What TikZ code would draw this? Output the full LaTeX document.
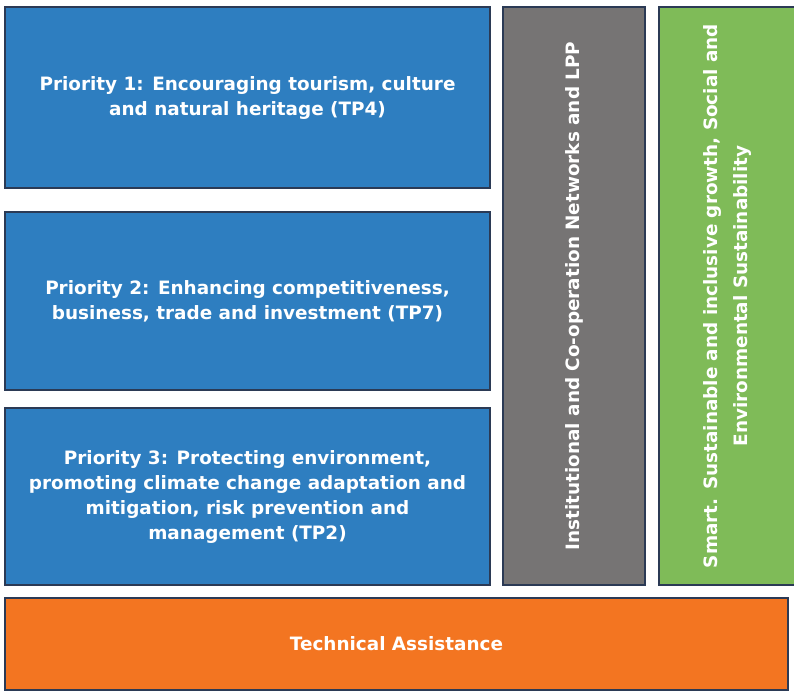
\documentclass[tikz,border=0pt]{standalone}
\usepackage{fontspec}
\setmainfont{DejaVu Sans}
\begin{document}
\begin{tikzpicture}[x=1pt,y=-1pt,
  box/.style={draw=edgecol, line width=1.6pt, text=white, font=\fontsize{18.4}{25}\selectfont\bfseries, align=center, inner sep=0pt},
  vtext/.style={text=white, font=\fontsize{18.4}{30}\selectfont\bfseries, rotate=90, align=center},
]
\definecolor{edgecol}{HTML}{2B3A55}
\definecolor{prioblue}{HTML}{2E7EC0}
\definecolor{netgray}{HTML}{767474}
\definecolor{sgreen}{HTML}{7FBB58}
\definecolor{taorange}{HTML}{F37521}
\useasboundingbox (0,0) rectangle (794,692);
\fill[white] (0,0) rectangle (794,692);
\node[box, fill=prioblue, minimum width=485, minimum height=181] (p1) at (247.5,97.5) {Priority 1: Encouraging tourism, culture\\and natural heritage (TP4)};
\node[box, fill=prioblue, minimum width=485, minimum height=178] (p2) at (247.5,301) {Priority 2: Enhancing competitiveness,\\business, trade and investment (TP7)};
\node[box, fill=prioblue, minimum width=485, minimum height=177] (p3) at (247.5,496.5) {Priority 3: Protecting environment,\\promoting climate change adaptation and\\mitigation, risk prevention and\\management (TP2)};
\node[box, fill=netgray, minimum width=142, minimum height=578] (net) at (574,296) {};
\node[vtext] (nett) at (net.center) {Institutional and Co-operation Networks and LPP};
\node[box, fill=sgreen, minimum width=136, minimum height=578] (grn) at (727,296) {};
\node[vtext] (grnt) at (grn.center) {Smart. Sustainable and inclusive growth, Social and\\Environmental Sustainability};
\node[box, fill=taorange, minimum width=783, minimum height=92] (ta) at (396.5,644) {Technical Assistance};
\end{tikzpicture}
\end{document}
